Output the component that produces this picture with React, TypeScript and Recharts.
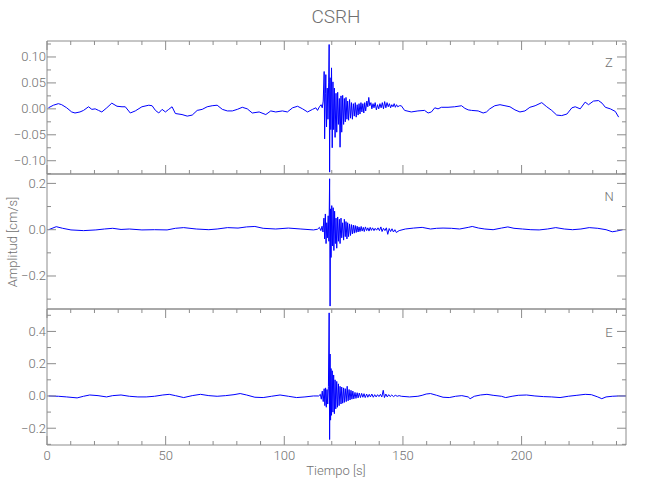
import React from 'react';
import { LineChart, Line, XAxis, YAxis } from 'recharts';

const FONT = "Roboto, 'Liberation Sans Narrow', sans-serif";
const AXIS = '#8c8c8c';
const TEXT = '#707070';
const TRACE = '#0000ff';

// time axis (s)
const timeTicks = [0, 10, 20, 30, 40, 50, 60, 70, 80, 90, 100, 110, 120, 130, 140, 150, 160, 170, 180, 190, 200, 210, 220, 230, 240];
const timeMajor = [0, 50, 100, 150, 200];
const timeLabels = ['0', '50', '100', '150', '200'];

// Z component (cm/s)
const zTime = [
  0.6, 2.7, 4.8, 6.2, 8.3, 10.4, 11.8, 13.9, 15.4, 17.5,
  18.9, 20.3, 21.7, 23.1, 25.2, 27.3, 29.5, 31.6, 33.0, 35.1,
  37.2, 40.0, 42.9, 44.3, 45.7, 47.1, 48.5, 49.9, 51.3, 52.7,
  54.1, 56.9, 59.1, 61.2, 63.3, 65.4, 67.5, 69.6, 71.7, 73.9,
  76.0, 78.1, 80.2, 82.3, 84.4, 86.5, 89.4, 92.2, 94.3, 96.4,
  99.2, 101.3, 103.5, 105.6, 107.7, 109.8, 111.9, 113.3,
  114.0, 114.8, 115.5, 116.0, 116.4, 116.8, 117.0, 117.3, 117.5, 117.8,
  118.1, 118.4, 118.7, 118.9, 119.1, 119.3, 119.6, 119.9, 120.2, 120.5,
  120.8, 121.1, 121.4, 121.8, 122.1, 122.5, 122.8, 123.2, 123.5, 123.9,
  124.2, 124.6, 125.0, 125.3, 125.7, 126.0, 126.4, 126.7, 127.1, 127.5,
  127.9, 128.3, 128.7, 129.1, 129.5, 129.9, 130.3, 130.7, 131.1, 131.5,
  131.9, 132.3, 132.7, 133.1, 133.5, 133.9, 134.3, 134.8, 135.2, 135.6,
  136.0, 136.5, 136.9, 137.4, 137.8, 138.3, 138.8, 139.3, 139.8, 140.3,
  140.8, 141.3, 141.8, 142.3, 142.8, 143.3, 143.8, 144.3, 144.8, 145.3,
  145.8, 146.3, 146.8, 147.3, 147.8, 148.5,
  149.3, 150.7, 153.5, 156.3, 159.1, 160.6, 162.0, 163.4, 164.8, 166.2,
  169.0, 171.8, 174.7, 176.1, 177.5, 178.9, 181.7, 183.8, 185.2, 186.6,
  188.7, 190.9, 193.0, 195.1, 197.2, 199.3, 201.4, 203.5, 205.7, 208.5,
  210.6, 212.7, 214.8, 216.9, 219.1, 221.2, 222.6, 224.7, 226.8, 228.2,
  230.3, 232.4, 233.9, 235.3, 237.4, 239.5, 240.9,
];
const zAmp = [
  0.002, 0.007, 0.010, 0.008, 0.002, -0.006, -0.008, -0.006, -0.003, 0.004,
  -0.001, 0.000, -0.003, -0.006, 0.002, 0.011, 0.005, 0.004, 0.004, -0.008,
  -0.004, 0.004, 0.007, 0.006, -0.003, -0.008, -0.001, -0.006, -0.001, 0.004,
  -0.009, -0.011, -0.014, -0.012, -0.003, -0.001, 0.004, 0.006, 0.007, -0.001,
  -0.004, -0.004, -0.001, 0.003, 0.000, -0.008, -0.006, -0.011, -0.004, -0.006,
  -0.004, -0.006, 0.002, 0.005, 0.000, -0.006, -0.001, 0.002,
  -0.003, 0.004, 0.008, 0.002, 0.015, 0.072, -0.058, 0.030, 0.066, -0.035,
  0.040, -0.020, 0.050, 0.124, -0.122, 0.060, -0.040, 0.079, -0.075, 0.052,
  -0.040, 0.040, -0.055, 0.030, -0.045, 0.032, -0.030, 0.020, -0.074, 0.025,
  -0.045, 0.026, -0.030, 0.020, -0.025, 0.022, -0.020, 0.015, -0.022, 0.018,
  -0.018, 0.012, -0.020, 0.010, -0.014, 0.012, -0.016, 0.008, -0.012, 0.010,
  -0.010, 0.012, -0.006, 0.010, -0.008, 0.012, -0.004, 0.015, 0.004, 0.022,
  0.006, 0.012, 0.000, 0.010, 0.002, 0.012, -0.002, 0.008, 0.000, 0.010,
  0.002, 0.012, 0.000, 0.014, 0.002, 0.012, 0.004, 0.010, 0.002, 0.008,
  0.004, 0.010, 0.003, 0.008, 0.004, 0.006,
  0.006, -0.003, -0.006, -0.004, -0.003, -0.008, -0.006, 0.002, 0.000, 0.003,
  0.003, 0.004, 0.006, 0.001, -0.002, -0.003, -0.004, -0.008, -0.006, 0.000,
  0.006, 0.008, 0.006, 0.004, -0.002, -0.006, -0.004, 0.003, 0.006, 0.012,
  0.004, -0.003, -0.012, -0.013, -0.010, 0.002, 0.004, 0.000, 0.013, 0.008,
  0.015, 0.016, 0.011, 0.003, 0.000, -0.005, -0.016,
];
const zMajor = [0.1, 0.05, 0, -0.05, -0.1];
const zLabels = ['0.10', '0.05', '0.00', '−0.05', '−0.10'];
const zMinor = [0.125, 0.075, 0.025, -0.025, -0.075, -0.125];

// N component (cm/s)
const nTime = [
  0.7, 3.9, 6.6, 10.1, 15.4, 20.6, 24.2, 27.7, 31.2, 34.7,
  40.0, 45.3, 50.6, 54.1, 57.6, 62.9, 68.2, 71.7, 76.1, 80.5,
  84.1, 87.6, 91.1, 96.4, 101.7, 107.0, 112.3,
  114.0, 114.8, 115.4, 115.9, 116.3, 116.7, 117.0, 117.3, 117.6, 117.9,
  118.2, 118.5, 118.8, 119.1, 119.3, 119.5, 119.7, 120.0, 120.3, 120.6,
  120.9, 121.2, 121.5, 121.8, 122.1, 122.5, 122.8, 123.2, 123.5, 123.9,
  124.2, 124.6, 125.0, 125.3, 125.7, 126.0, 126.4, 126.7, 127.1, 127.5,
  127.9, 128.3, 128.7, 129.1, 129.5, 129.9, 130.3, 130.7, 131.1, 131.5,
  131.9, 132.4, 132.8, 133.3, 133.7, 134.2, 134.7, 135.2, 135.7, 136.2,
  136.7, 137.2, 137.8, 138.3, 138.9, 139.5, 140.1, 140.7, 141.2, 141.8,
  142.4, 143.0, 143.6, 144.2, 144.8, 145.4, 146.0, 146.6, 147.2,
  148.4, 151.0, 154.5, 158.1, 161.6, 164.2, 166.9, 170.4, 173.9, 177.5,
  179.2, 181.9, 184.5, 188.0, 191.5, 194.2, 196.8, 200.4, 203.9, 207.4,
  210.9, 214.4, 218.0, 221.5, 225.0, 228.5, 232.1, 235.6, 238.2, 240.0,
  242.6,
];
const nAmp = [
  0.000, 0.013, 0.006, -0.001, -0.004, -0.001, 0.003, 0.006, 0.001, 0.003,
  -0.001, 0.000, -0.001, 0.006, 0.009, 0.003, 0.000, 0.003, 0.009, 0.007,
  0.012, 0.014, 0.006, 0.003, 0.007, 0.003, -0.001,
  0.002, 0.010, -0.004, 0.015, -0.010, 0.050, -0.040, 0.068, -0.060, 0.030,
  -0.035, 0.060, -0.050, 0.220, -0.330, 0.090, -0.120, 0.104, -0.070, 0.095,
  -0.090, 0.080, -0.060, 0.050, -0.080, 0.055, -0.050, 0.045, -0.060, 0.050,
  -0.035, 0.030, -0.045, 0.045, -0.030, 0.035, -0.040, 0.030, -0.030, 0.025,
  -0.025, 0.022, -0.018, 0.020, -0.015, 0.018, -0.012, 0.015, -0.010, 0.012,
  -0.008, 0.014, -0.006, 0.010, -0.008, 0.012, -0.004, 0.008, -0.006, 0.010,
  -0.003, 0.008, -0.004, 0.006, -0.002, 0.008, -0.004, 0.012, -0.008, 0.006,
  -0.004, 0.008, -0.020, 0.005, -0.008, 0.004, -0.010, 0.000, -0.012,
  -0.004, 0.003, 0.007, 0.010, 0.003, 0.006, 0.007, 0.006, 0.003, 0.010,
  0.014, 0.007, 0.003, 0.000, 0.007, 0.012, 0.006, 0.003, 0.000, -0.001,
  0.003, 0.009, 0.003, 0.000, 0.003, 0.009, 0.006, 0.000, -0.009, -0.006,
  0.000,
];
const nMajor = [0.2, 0, -0.2];
const nLabels = ['0.2', '0.0', '−0.2'];
const nMinor = [0.1, -0.1, -0.3];

// E component (cm/s)
const eTime = [
  0.7, 4.8, 8.3, 12.7, 15.4, 18.0, 21.5, 25.1, 27.7, 31.2,
  34.7, 38.3, 41.8, 45.3, 48.8, 51.5, 54.1, 57.6, 61.2, 64.7,
  68.2, 71.7, 75.3, 78.8, 81.4, 84.1, 87.6, 91.1, 94.6, 98.2,
  101.7, 105.2, 108.7, 112.3,
  114.5, 115.2, 115.6, 116.0, 116.4, 116.8, 117.1, 117.4, 117.7, 118.0,
  118.3, 118.6, 118.9, 119.1, 119.3, 119.5, 119.7, 119.9, 120.2, 120.5,
  120.8, 121.1, 121.4, 121.7, 122.1, 122.4, 122.8, 123.1, 123.5, 123.9,
  124.2, 124.6, 125.0, 125.3, 125.7, 126.1, 126.5, 126.9, 127.3, 127.7,
  128.1, 128.5, 128.9, 129.3, 129.8, 130.2, 130.7, 131.1, 131.6, 132.1,
  132.6, 133.1, 133.6, 134.1, 134.7, 135.2, 135.8, 136.3, 136.9, 137.5,
  138.1, 138.7, 139.3, 139.9, 140.5, 141.1, 141.7, 142.2, 142.8, 143.4,
  144.0, 144.6, 145.3, 146.0, 146.8, 147.6, 148.4,
  149.3, 152.8, 156.3, 158.1, 159.8, 161.6, 164.2, 166.9, 169.5, 172.2,
  174.8, 177.5, 178.3, 180.1, 182.7, 185.4, 188.0, 191.5, 193.3, 196.0,
  198.6, 202.1, 205.6, 209.2, 212.7, 216.2, 219.7, 223.3, 226.8, 229.4,
  232.1, 233.8, 235.6, 238.2, 240.9, 244.0,
];
const eAmp = [
  0.000, -0.002, -0.006, -0.012, -0.002, 0.006, 0.002, -0.006, 0.002, 0.006,
  -0.002, -0.006, -0.006, -0.002, 0.006, 0.010, 0.002, -0.010, 0.002, 0.010,
  0.002, -0.002, 0.002, 0.008, 0.015, 0.006, -0.008, -0.010, -0.002, 0.006,
  -0.002, -0.010, -0.006, 0.000,
  0.000, 0.010, -0.020, 0.030, -0.035, 0.045, -0.060, 0.050, -0.070, 0.040,
  -0.050, 0.060, 0.515, -0.270, 0.260, -0.150, 0.170, -0.120, 0.156, -0.100,
  0.130, -0.110, 0.100, -0.080, 0.090, -0.070, 0.075, -0.060, 0.060, -0.050,
  0.055, -0.045, 0.050, -0.040, 0.045, -0.035, 0.060, -0.030, 0.040, -0.025,
  0.035, -0.020, 0.030, -0.018, 0.022, -0.015, 0.020, -0.012, 0.018, -0.010,
  0.016, -0.008, 0.014, -0.010, 0.012, -0.008, 0.010, -0.006, 0.012, -0.008,
  0.008, -0.006, 0.008, -0.004, 0.010, -0.006, 0.035, -0.010, 0.012, -0.006,
  0.008, -0.004, 0.006, -0.004, 0.004, -0.002, 0.002,
  -0.002, -0.006, -0.002, 0.004, 0.012, 0.015, 0.004, -0.008, -0.010, -0.002,
  0.002, -0.006, -0.017, -0.002, 0.006, 0.010, 0.004, -0.002, -0.010, -0.002,
  0.004, 0.006, 0.000, -0.004, -0.006, -0.010, -0.002, 0.004, 0.010, 0.008,
  -0.006, -0.017, -0.006, -0.002, 0.000, 0.000,
];
const eMajor = [0.4, 0.2, 0, -0.2];
const eLabels = ['0.4', '0.2', '0.0', '−0.2'];
const eMinor = [0.5, 0.3, 0.1, -0.1, -0.3];

const W = 650;
const H = 500;
const LEFT = 47;
const RIGHT = 24;
const T_MAX = 244;

const panels = [
  { key: 'Z', time: zTime, amp: zAmp, domain: [-0.1256, 0.1308], major: zMajor, labels: zLabels, minor: zMinor, top: 41, bottom: 174, xTicks: true, xLabels: false },
  { key: 'N', time: nTime, amp: nAmp, domain: [-0.3426, 0.2406], major: nMajor, labels: nLabels, minor: nMinor, top: 174, bottom: 309, xTicks: false, xLabels: false },
  { key: 'E', time: eTime, amp: eAmp, domain: [-0.304, 0.539], major: eMajor, labels: eLabels, minor: eMinor, top: 309, bottom: 445, xTicks: true, xLabels: true },
];

const idx = (arr: number[], v: number) => arr.findIndex((m) => Math.abs(m - v) < 1e-9);

const yTick = (side: 'left' | 'right', major: number[], labels: string[]) => (props: any) => {
  const { x, y, payload } = props;
  const i = idx(major, payload.value);
  const len = i >= 0 ? 9 : 4;
  const dir = side === 'left' ? 1 : -1;
  return (
    <g>
      <line x1={x} y1={y} x2={x + dir * len} y2={y} stroke={AXIS} strokeWidth={1} />
      {side === 'left' && i >= 0 && (
        <text x={x - 1} y={y} dy={4.5} textAnchor="end" fill={TEXT} fontSize={13} fontWeight={300} fontFamily={FONT}>
          {labels[i]}
        </text>
      )}
    </g>
  );
};

const xTick = (side: 'top' | 'bottom', showLabels: boolean, hide: boolean) => (props: any) => {
  const { x, y, payload } = props;
  if (hide) return <g />;
  const i = idx(timeMajor, payload.value);
  const len = i >= 0 ? 9 : 4;
  const dir = side === 'top' ? 1 : -1;
  return (
    <g>
      <line x1={x} y1={y} x2={x} y2={y + dir * len} stroke={AXIS} strokeWidth={1} />
      {showLabels && i >= 0 && (
        <text x={x} y={y + 15} textAnchor="middle" fill={TEXT} fontSize={13} fontWeight={300} fontFamily={FONT}>
          {timeLabels[i]}
        </text>
      )}
    </g>
  );
};

const Panel = ({ p }: { p: (typeof panels)[number] }) => {
  const data = p.time.map((t, i) => ({ t, v: p.amp[i] }));
  const yTicks = [...p.major, ...p.minor].sort((a, b) => b - a);
  return (
    <div style={{ position: 'absolute', top: 0, left: 0 }}>
      <LineChart width={W} height={H} data={data} margin={{ top: p.top - 1, bottom: H - p.bottom - 1, left: 0, right: RIGHT - 1 }}>
        <XAxis xAxisId="b" type="number" dataKey="t" domain={[0, T_MAX]} ticks={timeTicks} interval={0}
          height={1} tickSize={0} tickMargin={0} allowDataOverflow axisLine={{ stroke: AXIS }} tickLine={false}
          tick={xTick('bottom', p.xLabels, !p.xTicks)} />
        <XAxis xAxisId="t" orientation="top" type="number" dataKey="t" domain={[0, T_MAX]} ticks={timeTicks} interval={0}
          height={1} tickSize={0} tickMargin={0} allowDataOverflow axisLine={{ stroke: AXIS }} tickLine={false}
          tick={xTick('top', false, !p.xTicks)} />
        <YAxis yAxisId="l" type="number" domain={p.domain} ticks={yTicks} interval={0} width={LEFT}
          tickSize={0} tickMargin={0} allowDataOverflow axisLine={{ stroke: AXIS }} tickLine={false}
          tick={yTick('left', p.major, p.labels)} />
        <YAxis yAxisId="r" orientation="right" type="number" domain={p.domain} ticks={yTicks} interval={0} width={1}
          tickSize={0} tickMargin={0} allowDataOverflow axisLine={{ stroke: AXIS }} tickLine={false}
          tick={yTick('right', p.major, p.labels)} />
        <Line xAxisId="b" yAxisId="l" type="linear" dataKey="v" stroke={TRACE} strokeWidth={1} dot={false} isAnimationActive={false} />
      </LineChart>
    </div>
  );
};

export default function App() {
  return (
    <div style={{ position: 'absolute', top: 0, left: 0, width: W, height: H, background: '#fff' }}>
      {panels.map((p) => (
        <Panel key={p.key} p={p} />
      ))}
      <svg width={W} height={H} style={{ position: 'absolute', top: 0, left: 0, pointerEvents: 'none' }}>
        <g fill={TEXT} fontFamily={FONT} fontWeight={300}>
          <text x={336} y={23} textAnchor="middle" fontSize={19}>CSRH</text>
          <text x={609} y={67} textAnchor="middle" fontSize={13}>Z</text>
          <text x={609} y={201} textAnchor="middle" fontSize={13}>N</text>
          <text x={609} y={337} textAnchor="middle" fontSize={13}>E</text>
          <text x={336} y={475} textAnchor="middle" fontSize={13}>Tiempo [s]</text>
          <text x={17} y={242} textAnchor="middle" fontSize={13} transform="rotate(-90 17 242)">Amplitud [cm/s]</text>
        </g>
      </svg>
    </div>
  );
}
